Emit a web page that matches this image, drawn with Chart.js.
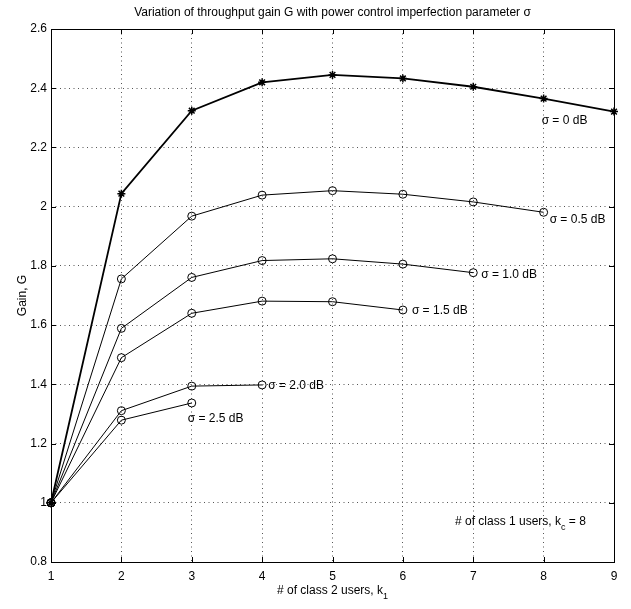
<!DOCTYPE html>
<html>
<head>
<meta charset="utf-8">
<script src="https://cdn.jsdelivr.net/npm/chart.js@4"></script>
<style>
  body { margin: 0; background: #fff; }
</style>
</head>
<body>
<canvas id="line-chart" width="631" height="609"></canvas>
<script>
// number of class 2 users, k1
var k1 = [1, 2, 3, 4, 5, 6, 7, 8, 9];

// gain G for each sigma
var gain_0 = [1.0, 2.044, 2.324, 2.420, 2.445, 2.433, 2.405, 2.365, 2.321];
var gain_05 = [1.0, 1.756, 1.968, 2.039, 2.054, 2.042, 2.016, 1.981];
var gain_10 = [1.0, 1.589, 1.761, 1.818, 1.824, 1.806, 1.777];
var gain_15 = [1.0, 1.490, 1.640, 1.681, 1.679, 1.651];
var gain_20 = [1.0, 1.311, 1.394, 1.398];
var gain_25 = [1.0, 1.279, 1.337];

var curveLabels = ['σ = 0 dB', 'σ = 0.5 dB', 'σ = 1.0 dB', 'σ = 1.5 dB', 'σ = 2.0 dB', 'σ = 2.5 dB'];
var yTicks = [0.8, 1.0, 1.2, 1.4, 1.6, 1.8, 2.0, 2.2, 2.4, 2.6];

var FONT = "'Liberation Sans', Arial, Helvetica, sans-serif";

function pts(ys){
    var out = [];
    for(var i = 0; i < ys.length; i++){
        out.push({x: k1[i], y: ys[i]});
    }
    return out;
}

function series(ys, star){
    return {
        data: pts(ys),
        borderColor: '#000',
        borderWidth: star ? 1.8 : 1,
        pointStyle: star ? 'star' : 'circle',
        pointRadius: 4,
        pointBorderWidth: star ? 1.5 : 1,
        pointBorderColor: '#000',
        pointBackgroundColor: 'rgba(0,0,0,0)',
        tension: 0,
        clip: false
    };
}

// where each sigma label sits: which point it hangs off, and pixel nudge
var labelAnchor = [
    {ds: 0, idx: 7, dx: -2, dy: 22},
    {ds: 1, idx: 7, dx: 6, dy: 7},
    {ds: 2, idx: 6, dx: 8, dy: 2},
    {ds: 3, idx: 5, dx: 9, dy: 1},
    {ds: 4, idx: 3, dx: 6, dy: 1},
    {ds: 5, idx: 2, dx: -4, dy: 16}
];

var notes = {
    id: 'notes',
    afterDraw: function(chart){
        var ctx = chart.ctx;
        var a = chart.chartArea;
        var xs = chart.scales.x;
        var ys = chart.scales.y;
        ctx.save();

        // box + inward ticks
        ctx.strokeStyle = '#000';
        ctx.lineWidth = 1;
        ctx.strokeRect(Math.round(a.left) + 0.5, Math.round(a.top) + 0.5,
            Math.round(a.right - a.left), Math.round(a.bottom - a.top));
        ctx.beginPath();
        for(var i = 0; i < k1.length; i++){
            var px = Math.round(xs.getPixelForValue(k1[i])) + 0.5;
            ctx.moveTo(px, a.bottom); ctx.lineTo(px, a.bottom - 5);
            ctx.moveTo(px, a.top); ctx.lineTo(px, a.top + 5);
        }
        for(var j = 0; j < yTicks.length; j++){
            var py = Math.round(ys.getPixelForValue(yTicks[j])) + 0.5;
            ctx.moveTo(a.left, py); ctx.lineTo(a.left + 5, py);
            ctx.moveTo(a.right, py); ctx.lineTo(a.right - 5, py);
        }
        ctx.stroke();

        ctx.fillStyle = '#000';
        ctx.textBaseline = 'middle';
        ctx.textAlign = 'left';
        ctx.font = '12px ' + FONT;

        // curve labels
        for(var n = 0; n < labelAnchor.length; n++){
            var l = labelAnchor[n];
            var p = chart.data.datasets[l.ds].data[l.idx];
            var lx = xs.getPixelForValue(p.x) + l.dx;
            var ly = ys.getPixelForValue(p.y) + l.dy;
            ctx.fillText(curveLabels[n], lx, ly);
        }

        // note in the lower right corner
        var nx = xs.getPixelForValue(6.74);
        var ny = ys.getPixelForValue(0.935);
        var t1 = '# of class 1 users, k';
        ctx.fillText(t1, nx, ny);
        nx += ctx.measureText(t1).width;
        ctx.font = '9px ' + FONT;
        ctx.fillText('c', nx, ny + 5);
        nx += ctx.measureText('c').width;
        ctx.font = '12px ' + FONT;
        ctx.fillText(' = 8', nx, ny);

        // x axis title with subscript
        var xt = '# of class 2 users, k';
        ctx.font = '12px ' + FONT;
        var w1 = ctx.measureText(xt).width;
        ctx.font = '9px ' + FONT;
        var w2 = ctx.measureText('1').width;
        var cx = (a.left + a.right) / 2 - (w1 + w2) / 2;
        ctx.font = '12px ' + FONT;
        ctx.fillText(xt, cx, 591);
        ctx.font = '9px ' + FONT;
        ctx.fillText('1', cx + w1, 597);

        ctx.restore();
    }
};

new Chart(document.getElementById('line-chart'), {
    type: 'line',
    data: {
        datasets: [
            series(gain_0, true),
            series(gain_05, false),
            series(gain_10, false),
            series(gain_15, false),
            series(gain_20, false),
            series(gain_25, false)
        ]
    },
    options: {
        responsive: false,
        animation: false,
        layout: { padding: { left: 0, right: 17, top: 0, bottom: 0 } },
        scales: {
            x: {
                type: 'linear',
                min: 1,
                max: 9,
                afterFit: function(s){ s.height = 47; },
                ticks: {
                    stepSize: 1,
                    padding: 7,
                    color: '#000',
                    font: { family: FONT, size: 12 },
                    maxRotation: 0
                },
                grid: { color: '#555', lineWidth: 1, drawTicks: false },
                border: { display: false, dash: [1, 3.5] }
            },
            y: {
                type: 'linear',
                min: 0.8,
                max: 2.6,
                afterFit: function(s){ s.width = 51; },
                afterBuildTicks: function(s){
                    s.ticks = yTicks.map(function(v){ return {value: v}; });
                },
                ticks: {
                    padding: 4,
                    color: '#000',
                    font: { family: FONT, size: 12 },
                    callback: function(v){ return String(Math.round(v * 10) / 10); }
                },
                grid: { color: '#555', lineWidth: 1, drawTicks: false },
                border: { display: false, dash: [1, 3.5] },
                title: {
                    display: true,
                    text: 'Gain, G',
                    color: '#000',
                    font: { family: FONT, size: 12 },
                    padding: { top: 15, bottom: 0 }
                }
            }
        },
        plugins: {
            legend: { display: false },
            tooltip: { enabled: false },
            title: {
                display: true,
                fullSize: false,
                text: 'Variation of throughput gain G with power control imperfection parameter σ',
                color: '#000',
                font: { family: FONT, size: 12, weight: 'normal' },
                padding: { top: 5, bottom: 9.6 }
            }
        }
    },
    plugins: [notes]
});
</script>
</body>
</html>
